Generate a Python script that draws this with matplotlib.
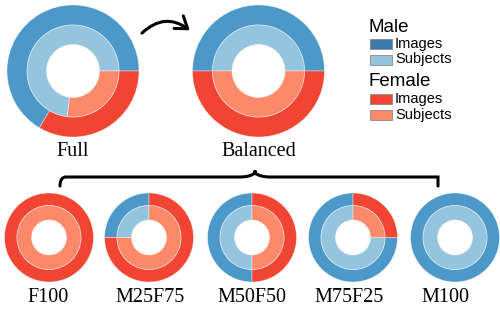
import matplotlib.pyplot as plt
from matplotlib.patches import FancyArrowPatch, PathPatch, Rectangle
from matplotlib.path import Path

# data (percent male; female is the rest)
top_names = ["Full", "Balanced"]
top_male_images = [66.5, 50]
top_male_subjects = [73, 50]
bottom_names = ["F100", "M25F75", "M50F50", "M75F25", "M100"]
bottom_male = [0, 25, 50, 75, 100]
legend_groups = ["Male", "Female"]
legend_items = ["Images", "Subjects"]

blue = "#4b98c9"
light_blue = "#95c4df"
red = "#f14432"
salmon = "#fc8a6a"

fig = plt.figure(figsize=(5, 3.11), dpi=100)
ax = fig.add_axes([0, 0, 1, 1])

edge = dict(edgecolor=(1, 1, 1, 0.45), linewidth=0.6)


def ring(male, colors, radius, width, center, start):
    vals, cols = [], []
    for v, c in zip([male, 100 - male], colors):
        if v > 0:
            vals.append(v)
            cols.append(c)
    ax.pie(vals, colors=cols, radius=radius, center=center, startangle=start,
           counterclock=True, frame=True, wedgeprops=dict(width=width, **edge))


# top donuts
top_x = [73, 258.5]
for name, mi, ms, x in zip(top_names, top_male_images, top_male_subjects, top_x):
    ring(mi, [blue, red], 66, 20, (x, 240), 0)
    ring(ms, [light_blue, salmon], 46, 19.5, (x, 240), 0)
    ax.text(x, 159, name, ha="center", va="center", fontsize=14.5,
            family="Liberation Serif")

# bottom donuts
bottom_x = [49, 149, 252, 353, 455]
label_x = [48, 150, 252, 349, 445]
for name, m, x, lx in zip(bottom_names, bottom_male, bottom_x, label_x):
    ring(m, [blue, red], 44.5, 12.5, (x, 73.5), 90)
    ring(m, [light_blue, salmon], 32, 14.5, (x, 73.5), 90)
    ax.text(lx, 13, name, ha="center", va="center", fontsize=14.5,
            family="Liberation Serif")

# curved arrow
arrow = FancyArrowPatch((140, 276), (192, 279), connectionstyle="arc3,rad=-0.45",
                        arrowstyle="->,head_length=5,head_width=3.5",
                        color="black", lw=2.2, mutation_scale=1.6)
ax.add_patch(arrow)

# curly brace
brace = [(60, 125), (60, 134), (66, 134), (76, 134),
         (240, 134), (250, 134), (255, 138), (255, 143),
         (255, 138), (260, 134), (270, 134),
         (426, 134), (432, 134), (438, 134), (438, 125)]
codes = [Path.MOVETO, Path.CURVE3, Path.CURVE3, Path.LINETO,
         Path.LINETO, Path.CURVE3, Path.CURVE3, Path.CURVE3,
         Path.CURVE3, Path.CURVE3, Path.CURVE3,
         Path.LINETO, Path.CURVE3, Path.CURVE3, Path.LINETO]
ax.add_patch(PathPatch(Path(brace, codes), fill=False, lw=2.2, color="black",
                       capstyle="round"))

# legend
legend_colors = {"Male": ["#3c7bab", light_blue], "Female": [red, salmon]}
group_y = [284, 229]
for g, gy in zip(legend_groups, group_y):
    ax.text(369, gy, g, ha="left", va="center", fontsize=13.5,
            family="Liberation Sans")
    for i, (item, c) in enumerate(zip(legend_items, legend_colors[g])):
        iy = gy - 17 - 15.5 * i
        ax.add_patch(Rectangle((370, iy - 5), 22, 10, facecolor=c,
                               edgecolor="#8a8a8a", lw=0.6))
        ax.text(395, iy, item, ha="left", va="center", fontsize=10.5,
                family="Liberation Sans")

ax.set_xlim(0, 500)
ax.set_ylim(0, 311)
ax.set_aspect("equal")
ax.axis("off")
fig.savefig("out.png", dpi=100)
